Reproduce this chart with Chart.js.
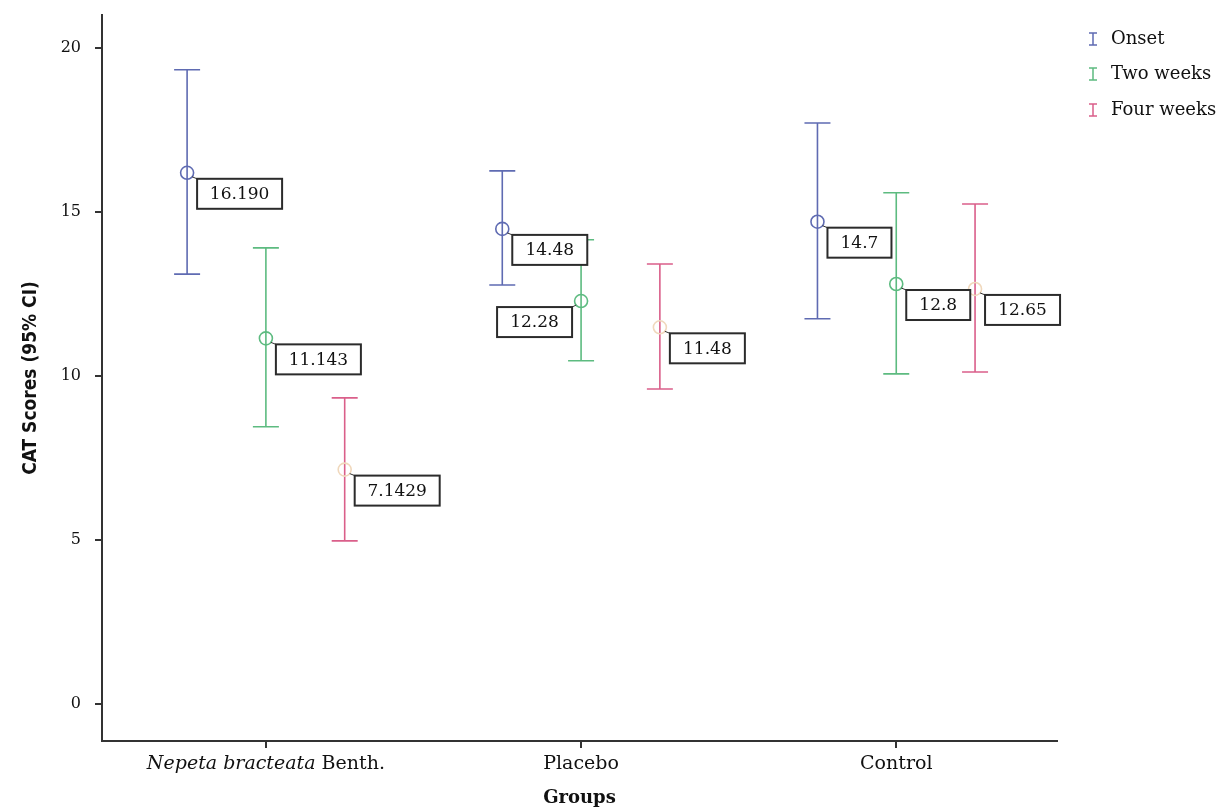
<!DOCTYPE html>
<html>
<head>
<meta charset="utf-8">
<title>CAT Scores (95% CI)</title>
<script src="https://cdn.jsdelivr.net/npm/chart.js@4.4.1/dist/chart.umd.min.js"></script>
<style>
  html, body { margin: 0; padding: 0; background: #fff; }
  #wrap { width: 1219px; height: 809px; position: relative; }
</style>
</head>
<body>
<div id="wrap"><canvas id="chart"></canvas></div>
<script>
// groups on the x axis
const groups = ["Nepeta bracteata Benth.", "Placebo", "Control"];
const seriesNames = ["Onset", "Two weeks", "Four weeks"];

// means and 95% CI
const onsetMean = [16.19, 14.48, 14.7];
const onsetLow = [13.1, 12.77, 11.74];
const onsetHigh = [19.33, 16.25, 17.71];
const onsetLabels = ["16.190", "14.48", "14.7"];

const twoWeeksMean = [11.143, 12.28, 12.8];
const twoWeeksLow = [8.45, 10.46, 10.06];
const twoWeeksHigh = [13.9, 14.15, 15.58];
const twoWeeksLabels = ["11.143", "12.28", "12.8"];

const fourWeeksMean = [7.1429, 11.48, 12.65];
const fourWeeksLow = [4.97, 9.6, 10.12];
const fourWeeksHigh = [9.33, 13.41, 15.24];
const fourWeeksLabels = ["7.1429", "11.48", "12.65"];

const yTicks = [0, 5, 10, 15, 20];

const serifFont = "'DejaVu Serif', 'Liberation Serif', serif";
const barColors = ["#5f6bb2", "#5dbb80", "#da5f8a"];
const markerColors = ["#5f6bb2", "#5dbb80", "#f0d8bc"];
const seriesOffset = [-0.25, 0, 0.25];

const series = [
  { mean: onsetMean, low: onsetLow, high: onsetHigh, labels: onsetLabels },
  { mean: twoWeeksMean, low: twoWeeksLow, high: twoWeeksHigh, labels: twoWeeksLabels },
  { mean: fourWeeksMean, low: fourWeeksLow, high: fourWeeksHigh, labels: fourWeeksLabels }
];

// the 12.28 box sits to the left of its point
const leftLabels = { "1-1": true };

const datasets = series.map((s, i) => ({
  label: seriesNames[i],
  data: s.mean.map((m, g) => ({ x: g + seriesOffset[i], y: m })),
  showLine: false,
  pointStyle: "circle",
  pointRadius: 6.5,
  pointHoverRadius: 6.5,
  pointBorderWidth: 1.6,
  borderColor: markerColors[i],
  backgroundColor: "rgba(0,0,0,0)"
}));

// error bars under the markers
const errorBars = {
  id: "errorBars",
  beforeDatasetsDraw(chart) {
    const { ctx, scales: { x, y } } = chart;
    ctx.save();
    series.forEach((s, i) => {
      ctx.strokeStyle = barColors[i];
      ctx.lineWidth = 1.6;
      s.mean.forEach((m, g) => {
        const px = x.getPixelForValue(g + seriesOffset[i]);
        const top = y.getPixelForValue(s.high[g]);
        const bot = y.getPixelForValue(s.low[g]);
        ctx.beginPath();
        ctx.moveTo(px, top); ctx.lineTo(px, bot);
        ctx.moveTo(px - 13, top); ctx.lineTo(px + 13, top);
        ctx.moveTo(px - 13, bot); ctx.lineTo(px + 13, bot);
        ctx.stroke();
      });
    });
    ctx.restore();
  }
};

// boxed value labels
const valueBoxes = {
  id: "valueBoxes",
  afterDatasetsDraw(chart) {
    const { ctx, scales: { x, y } } = chart;
    ctx.save();
    ctx.font = "17px " + serifFont;
    ctx.textBaseline = "middle";
    ctx.textAlign = "center";
    series.forEach((s, i) => {
      s.mean.forEach((m, g) => {
        const px = x.getPixelForValue(g + seriesOffset[i]);
        const py = y.getPixelForValue(m);
        const text = s.labels[g];
        const w = Math.round(ctx.measureText(text).width + 26);
        const h = 30;
        const left = leftLabels[i + "-" + g];
        const bx = left ? px - 9 - w : px + 10;
        const by = py + 6;
        ctx.strokeStyle = "#333";
        ctx.lineWidth = 1;
        ctx.beginPath();
        if (left) { ctx.moveTo(px - 5, py + 4); ctx.lineTo(bx + w, by); }
        else { ctx.moveTo(px + 5, py + 4); ctx.lineTo(bx, by); }
        ctx.stroke();
        ctx.fillStyle = "#fff";
        ctx.fillRect(bx, by, w, h);
        ctx.lineWidth = 2;
        ctx.strokeStyle = "#2b2b2b";
        ctx.strokeRect(bx, by, w, h);
        ctx.fillStyle = "#111";
        ctx.fillText(text, bx + w / 2, by + h / 2 + 1);
      });
    });
    ctx.restore();
  }
};

// group names under the ticks (first one partly italic)
const groupLabels = {
  id: "groupLabels",
  afterDraw(chart) {
    const { ctx, scales: { x } } = chart;
    ctx.save();
    ctx.fillStyle = "#111";
    ctx.textBaseline = "middle";
    ctx.textAlign = "left";
    groups.forEach((name, g) => {
      const cx = x.getPixelForValue(g);
      const cy = 764;
      const parts = g === 0
        ? [["italic 19px " + serifFont, "Nepeta bracteata"], ["19px " + serifFont, " Benth."]]
        : [["19px " + serifFont, name]];
      let total = 0;
      parts.forEach(p => { ctx.font = p[0]; total += ctx.measureText(p[1]).width; });
      let sx = cx - total / 2;
      parts.forEach(p => {
        ctx.font = p[0];
        ctx.fillText(p[1], sx, cy);
        sx += ctx.measureText(p[1]).width;
      });
    });
    ctx.restore();
  }
};

// legend in the top right corner
const sideLegend = {
  id: "sideLegend",
  afterDraw(chart) {
    const { ctx } = chart;
    const rows = [39, 74, 110];
    ctx.save();
    ctx.font = "18px " + serifFont;
    ctx.textBaseline = "middle";
    ctx.textAlign = "left";
    chart.data.datasets.forEach((ds, i) => {
      const cy = rows[i];
      ctx.strokeStyle = barColors[i];
      ctx.lineWidth = 1.5;
      ctx.beginPath();
      ctx.moveTo(1093, cy - 6); ctx.lineTo(1093, cy + 6);
      ctx.moveTo(1089, cy - 6); ctx.lineTo(1097, cy - 6);
      ctx.moveTo(1089, cy + 6); ctx.lineTo(1097, cy + 6);
      ctx.stroke();
      ctx.fillStyle = "#111";
      ctx.fillText(ds.label, 1111, cy);
    });
    ctx.restore();
  }
};

new Chart(document.getElementById("chart"), {
  type: "scatter",
  data: { datasets },
  options: {
    responsive: true,
    maintainAspectRatio: false,
    animation: false,
    layout: { padding: { top: 15, right: 162, left: 0, bottom: 0 } },
    plugins: {
      legend: { display: false },
      tooltip: { enabled: false }
    },
    scales: {
      x: {
        type: "linear",
        min: -0.52,
        max: 2.51,
        afterBuildTicks: scale => { scale.ticks = groups.map((_, g) => ({ value: g })); },
        afterFit: scale => { scale.height = 68; scale.paddingLeft = 0; scale.paddingRight = 0; },
        border: { color: "#333", width: 2 },
        grid: { drawOnChartArea: false, drawTicks: true, tickLength: 7, color: "#333", lineWidth: 2 },
        ticks: { callback: () => "", font: { size: 19, family: serifFont } },
        title: {
          display: true,
          text: "Groups",
          color: "#111",
          font: { size: 18, weight: "bold", family: serifFont },
          padding: { top: 0, bottom: 0 }
        }
      },
      y: {
        type: "linear",
        min: -1.13,
        max: 21.0,
        afterBuildTicks: scale => { scale.ticks = yTicks.map(v => ({ value: v })); },
        afterFit: scale => { scale.width = 102; scale.paddingTop = 0; scale.paddingBottom = 0; },
        border: { color: "#333", width: 2 },
        grid: { drawOnChartArea: false, drawTicks: true, tickLength: 7, color: "#333", lineWidth: 2 },
        ticks: { color: "#111", padding: 14, font: { size: 16, family: serifFont } },
        title: {
          display: true,
          text: "CAT Scores (95% CI)",
          color: "#111",
          font: { size: 19, weight: "bold", family: "'Liberation Sans Narrow', 'DejaVu Sans Condensed', sans-serif" },
          padding: { top: 20, bottom: 0 }
        }
      }
    }
  },
  plugins: [errorBars, valueBoxes, groupLabels, sideLegend]
});
</script>
</body>
</html>
